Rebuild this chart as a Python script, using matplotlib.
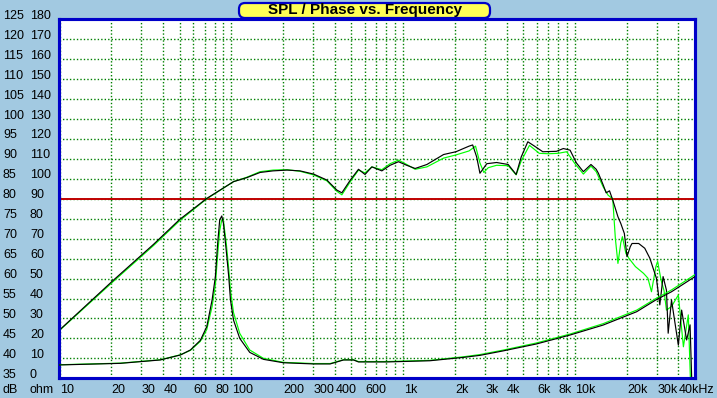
import numpy as np
import matplotlib
matplotlib.use('Agg')
import matplotlib.pyplot as plt
import matplotlib.transforms as mtransforms
from matplotlib.patches import FancyBboxPatch
from matplotlib.ticker import LogLocator, MultipleLocator, NullFormatter

# ---------------- data ----------------
spl_a_freq = [10, 20.6, 35.3, 50, 72, 103, 123, 147, 175, 211, 251, 301, 360, 411, 440, 493,
              550, 600, 658, 752, 840, 940, 1050, 1175, 1375, 1720, 2030, 2420, 2540, 2680,
              2800, 3070, 3500, 4090, 4550, 4870, 5320, 5820, 6500, 7800, 8560, 9370, 10200,
              11200, 12400, 13300, 13700, 14600, 15200, 15900, 16600, 17800, 18500, 19400,
              20100, 21000, 21500, 23500, 25500, 27300, 29800, 31200, 32600, 34100, 34900,
              36500, 40000, 41800, 44700, 46800, 47800]
spl_a_db = [47.1, 59.6, 68.6, 74.8, 80.1, 84.3, 85.3, 86.6, 87.0, 87.2, 87.0, 86.2, 84.7, 82.2,
            81.5, 84.7, 87.4, 86.1, 88.0, 87.0, 88.4, 89.3, 88.4, 87.6, 88.6, 91.1, 91.8, 93.2,
            93.5, 90.5, 86.4, 88.8, 89.1, 88.6, 86.1, 90.5, 94.3, 93.2, 91.8, 91.9, 92.6, 92.2,
            89.0, 86.8, 88.6, 87.4, 86.4, 83.5, 81.5, 82.0, 79.7, 75.5, 73.8, 71.3, 65.5, 68.0,
            68.8, 68.8, 67.6, 65.1, 60.1, 53.4, 60.5, 57.1, 46.3, 54.6, 43.3, 52.1, 44.6, 48.4,
            35.4]

spl_b_freq = [10, 20.6, 35.3, 50, 72, 103, 123, 147, 175, 211, 251, 301, 360, 411, 440, 493,
              550, 600, 658, 752, 840, 940, 1050, 1175, 1375, 1720, 2030, 2420, 2640, 2800,
              2950, 3130, 3500, 4090, 4550, 4870, 5440, 6200, 7000, 8000, 8950, 10000, 11200,
              12400, 13300, 14600, 15600, 16600, 17200, 17800, 18500, 18900, 19800, 20600,
              22500, 25100, 26600, 27900, 29600, 30300, 31700, 33000, 34100, 36500, 40000,
              42800, 45700, 47000]
spl_b_db = [47.0, 59.3, 68.3, 74.5, 80.0, 84.3, 85.4, 86.8, 87.2, 87.3, 86.9, 86.0, 84.5, 81.9,
            81.0, 84.3, 87.2, 86.5, 88.0, 87.3, 88.8, 89.7, 88.6, 87.4, 88.0, 90.2, 91.0, 92.0,
            93.2, 89.0, 86.6, 87.8, 88.4, 88.3, 86.0, 89.5, 93.4, 91.4, 91.3, 91.4, 91.8, 88.8,
            86.2, 88.2, 86.8, 83.0, 80.9, 80.0, 70.0, 63.8, 69.0, 70.5, 66.3, 65.1, 63.0, 61.3,
            60.1, 56.7, 63.0, 64.3, 59.7, 57.0, 52.1, 53.0, 55.9, 42.9, 50.9, 35.0]

imp_a_freq = [10, 22.6, 38.6, 50.6, 57.8, 66, 72, 77.3, 80.8, 83.3, 85.6, 88, 90, 93.4, 96.6,
              98.9, 103, 112, 128, 154, 201, 301, 376, 450, 514, 550, 800, 1430, 2250, 2800,
              3800, 5960, 9370, 14600, 22900, 29600, 36500, 50000]
imp_a_ohm = [6.7, 7.5, 9.2, 11.7, 14.2, 19.0, 25.9, 39.3, 51.0, 67.7, 79.4, 81.4, 77.7, 64.3,
             51.0, 39.3, 29.2, 20.0, 13.0, 9.5, 7.8, 7.2, 7.2, 9.2, 9.2, 8.2, 8.2, 8.8, 10.5,
             11.5, 13.7, 17.2, 21.7, 26.7, 33.4, 39.3, 43.4, 51.0]

imp_b_freq = imp_a_freq
imp_b_ohm = [6.8, 7.6, 9.3, 11.8, 14.0, 18.5, 24.5, 36.0, 47.0, 62.0, 74.0, 79.5, 79.0, 68.0,
             55.0, 44.0, 33.0, 22.5, 14.2, 10.0, 8.0, 7.4, 7.4, 9.3, 9.3, 8.4, 8.4, 9.0, 10.8,
             11.9, 14.1, 17.7, 22.2, 27.4, 34.2, 40.0, 44.3, 52.0]

x_tick_vals = [10, 20, 30, 40, 60, 80, 100, 200, 300, 400, 600, 1000, 2000, 3000, 4000, 6000,
               8000, 10000, 20000, 30000, 40000]
x_tick_text = ['10', '20', '30', '40', '60', '80', '100', '200', '300', '400', '600', '1k', '2k',
               '3k', '4k', '6k', '8k', '10k', '20k', '30k', '40kHz']
db_ticks = list(range(35, 130, 5))
ohm_ticks = list(range(0, 190, 10))
title_text = 'SPL / Phase vs. Frequency'

# ---------------- style ----------------
BG = '#A2C9E1'
BLUE = '#0000C8'
GRID = '#008000'
W, H = 717, 398
plt.rcParams['font.family'] = ['Liberation Sans', 'DejaVu Sans']

fig = plt.figure(figsize=(W / 100, H / 100), dpi=100, facecolor=BG)
L, R, T, B = 59.5, 695.0, 19.3, 378.3
ax = fig.add_axes([L / W, 1 - B / H, (R - L) / W, (B - T) / H])
ax.set_facecolor('white')
ax.set_xscale('log')
ax.set_xlim(10, 50000)
ax.set_ylim(35, 125)
ax.xaxis.set_major_locator(LogLocator(base=10, subs=range(1, 10), numticks=100))
ax.xaxis.set_minor_locator(LogLocator(base=10, subs=[], numticks=100))
ax.yaxis.set_major_locator(MultipleLocator(5))
ax.xaxis.set_major_formatter(NullFormatter())
ax.xaxis.set_minor_formatter(NullFormatter())
ax.yaxis.set_major_formatter(NullFormatter())
ax.tick_params(which='both', length=0)
ax.grid(True, which='major', color=GRID, linestyle=(0, (1.0, 1.5)), linewidth=1.0, zorder=0)
ax.set_axisbelow(True)
ax.axhline(80, color='#C00000', linewidth=1.4, zorder=1)

LW = 0.85
ax.plot(spl_b_freq, spl_b_db, color='#00FF00', linewidth=LW, zorder=3)
ax.plot(spl_a_freq, spl_a_db, color='black', linewidth=LW, zorder=4)

ax2 = ax.twinx()
ax2.set_ylim(0, 180)
ax2.set_xlim(10, 50000)
ax2.tick_params(which='both', length=0, labelright=False)
ax2.yaxis.set_major_formatter(NullFormatter())
ax2.plot(imp_b_freq, imp_b_ohm, color='#00FF00', linewidth=LW, zorder=3)
ax2.plot(imp_a_freq, imp_a_ohm, color='black', linewidth=LW, zorder=4)

for a in (ax, ax2):
    for s in a.spines.values():
        s.set_color(BLUE)
        s.set_linewidth(2.2)

# ---------------- labels ----------------
fs = 9
tx = mtransforms.blended_transform_factory(ax.transData, fig.transFigure)
tx = mtransforms.offset_copy(tx, fig=fig, x=0.5, y=0, units='dots')
ylab = 1 - 390 / H
for v, t in zip(x_tick_vals, x_tick_text):
    fig.text(v, ylab, t, transform=tx, ha='left', va='center', fontsize=fs, color='black')

ty1 = mtransforms.offset_copy(mtransforms.blended_transform_factory(fig.transFigure, ax.transData),
                              fig=fig, x=0, y=3.5, units='dots')
ty2 = mtransforms.offset_copy(mtransforms.blended_transform_factory(fig.transFigure, ax2.transData),
                              fig=fig, x=0, y=3.5, units='dots')
for v in db_ticks:
    fig.text(3 / W, v, str(v), transform=ty1, ha='left', va='center', fontsize=fs)
for v in ohm_ticks:
    fig.text(30 / W, v, str(v), transform=ty2, ha='left', va='center', fontsize=fs)
fig.text(3 / W, ylab, 'dB', ha='left', va='center', fontsize=fs)
fig.text(30 / W, ylab, 'ohm', ha='left', va='center', fontsize=fs)

# ---------------- title box ----------------
idt = mtransforms.IdentityTransform()
box = FancyBboxPatch((239, H - 18), 251, 15, boxstyle='round,pad=0,rounding_size=6',
                     transform=idt, facecolor='#FFFF55', edgecolor=BLUE, linewidth=1.6,
                     zorder=10)
fig.patches.append(box)
fig.text(365 / W, 1 - 10 / H, title_text, ha='center', va='center', fontsize=11,
         fontweight='bold', zorder=11)

fig.savefig('out.png', dpi=100, facecolor=BG)
